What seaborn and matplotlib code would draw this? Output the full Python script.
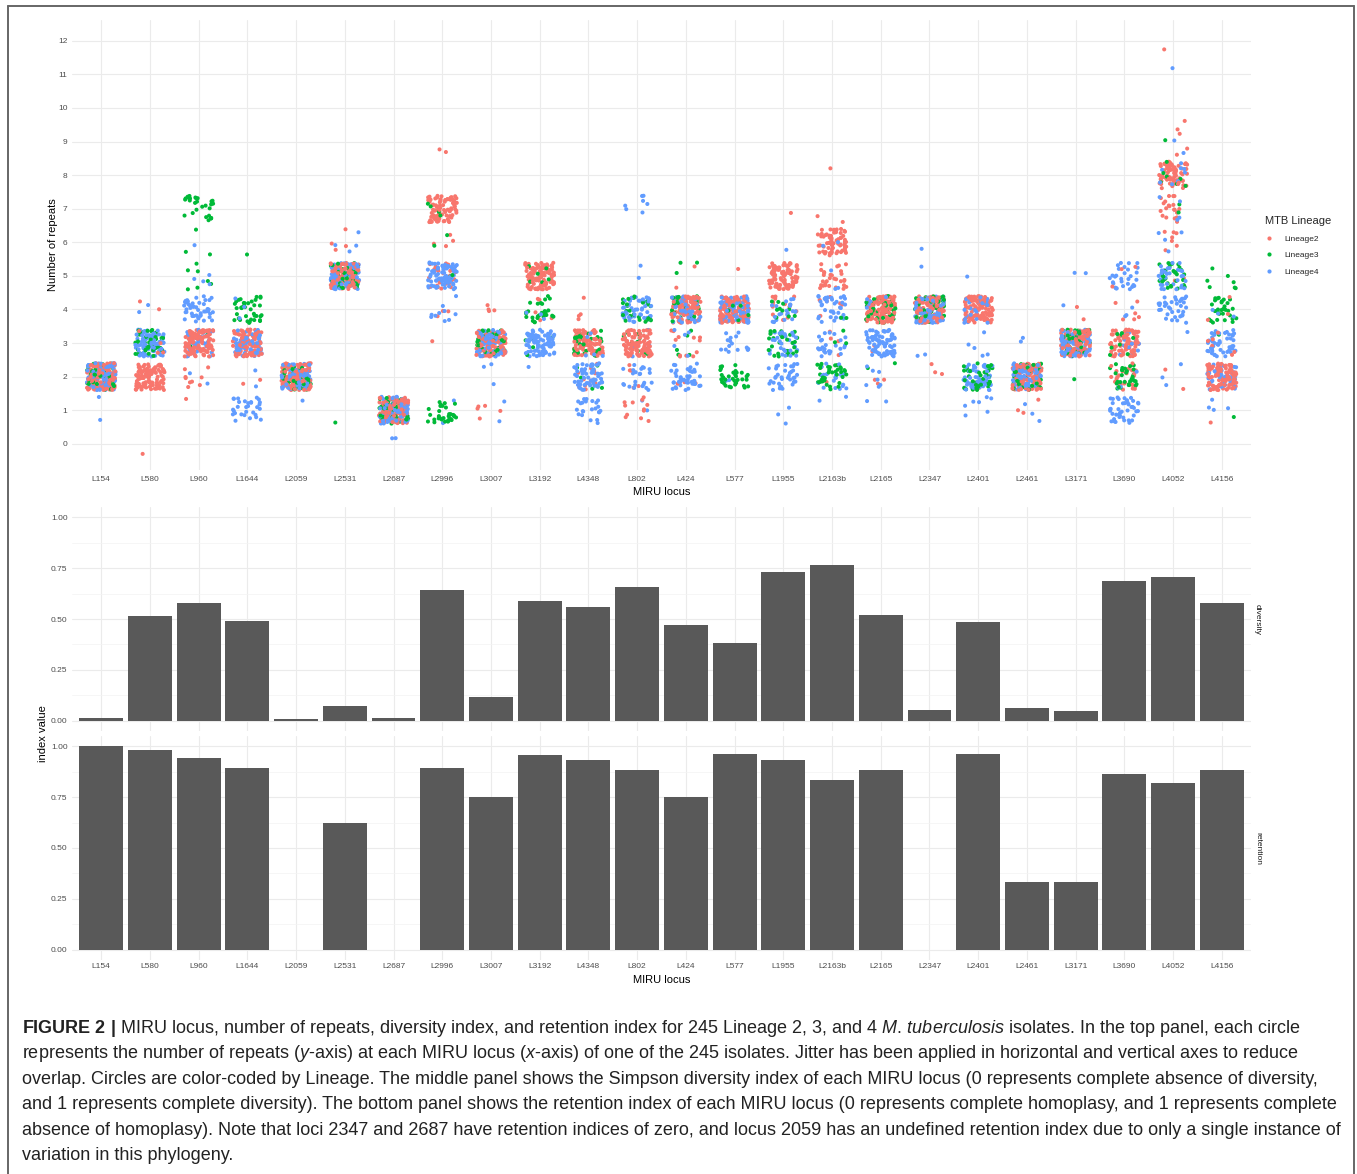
import numpy as np
import pandas as pd
import seaborn as sns
import matplotlib as mpl
import matplotlib.pyplot as plt
from matplotlib.lines import Line2D
from matplotlib.ticker import MultipleLocator

loci = ["L154", "L580", "L960", "L1644", "L2059", "L2531", "L2687", "L2996",
        "L3007", "L3192", "L4348", "L802", "L424", "L577", "L1955", "L2163b",
        "L2165", "L2347", "L2401", "L2461", "L3171", "L3690", "L4052", "L4156"]
lineages = ["Lineage2", "Lineage3", "Lineage4"]
lineage_colors = ["#F8766D", "#00BA38", "#619CFF"]

# isolates per number of repeats, one dict per locus (same order as loci)
lineage2_repeats = [
    {2: 115}, {0: 1, 2: 108, 3: 4, 4: 2}, {1: 1, 2: 9, 3: 105}, {2: 2, 3: 113},
    {2: 115}, {5: 111, 6: 4}, {1: 115}, {3: 1, 4: 3, 5: 25, 6: 4, 7: 80, 9: 2},
    {1: 5, 3: 106, 4: 4}, {4: 5, 5: 110}, {2: 11, 3: 100, 4: 4}, {1: 12, 2: 5, 3: 98},
    {2: 3, 3: 12, 4: 98, 5: 2}, {4: 114, 5: 1}, {4: 14, 5: 100, 7: 1},
    {2: 2, 3: 4, 4: 6, 5: 30, 6: 70, 7: 2, 8: 1},
    {2: 3, 3: 2, 4: 110}, {2: 3, 4: 112}, {2: 2, 4: 113}, {1: 3, 2: 112},
    {3: 113, 4: 2}, {2: 26, 3: 80, 4: 6, 5: 3},
    {2: 2, 5: 3, 6: 7, 7: 22, 8: 75, 9: 4, 10: 1, 12: 1}, {1: 1, 2: 105, 3: 6, 4: 3},
]
lineage3_repeats = [
    {2: 40}, {3: 40}, {3: 2, 5: 7, 6: 3, 7: 28}, {3: 1, 4: 38, 6: 1},
    {2: 40}, {1: 1, 5: 39}, {1: 40}, {1: 32, 5: 2, 6: 2, 7: 4},
    {3: 40}, {3: 6, 4: 28, 5: 6}, {2: 7, 3: 33}, {3: 14, 4: 26},
    {3: 5, 4: 32, 5: 3}, {2: 35, 4: 5}, {3: 30, 4: 10}, {2: 35, 3: 3, 4: 2},
    {2: 2, 4: 38}, {4: 40}, {2: 40}, {2: 40},
    {2: 1, 3: 39}, {2: 32, 3: 8}, {5: 30, 7: 2, 8: 7, 9: 1}, {1: 1, 3: 2, 4: 30, 5: 7},
]
lineage4_repeats = [
    {1: 2, 2: 88}, {3: 88, 4: 2}, {2: 2, 3: 38, 4: 45, 5: 4, 6: 1}, {1: 30, 2: 2, 3: 55, 4: 3},
    {1: 1, 2: 89}, {5: 86, 6: 4}, {0: 2, 1: 88}, {1: 2, 4: 10, 5: 78},
    {1: 2, 2: 3, 3: 85}, {2: 1, 3: 86, 4: 3}, {1: 23, 2: 62, 3: 5},
    {1: 2, 2: 24, 3: 5, 4: 50, 5: 2, 7: 7},
    {2: 45, 3: 5, 4: 40}, {2: 2, 3: 16, 4: 72}, {1: 3, 2: 36, 3: 28, 4: 22, 6: 1},
    {1: 2, 2: 20, 3: 25, 4: 38, 5: 3, 6: 2},
    {1: 2, 2: 7, 3: 76, 4: 5}, {3: 2, 4: 86, 5: 1, 6: 1}, {1: 7, 2: 55, 3: 5, 4: 22, 5: 1},
    {1: 3, 2: 85, 3: 2},
    {3: 87, 4: 1, 5: 2}, {1: 42, 2: 3, 3: 12, 4: 3, 5: 30},
    {2: 3, 3: 1, 4: 35, 5: 32, 6: 4, 7: 4, 8: 8, 9: 2, 11: 1}, {1: 4, 2: 38, 3: 45, 4: 3},
]

diversity_index = [0.015, 0.514, 0.581, 0.488, 0.007, 0.075, 0.013, 0.643,
                   0.115, 0.586, 0.561, 0.656, 0.471, 0.381, 0.730, 0.764,
                   0.519, 0.054, 0.484, 0.062, 0.047, 0.687, 0.705, 0.579]
# L2059 retention index is undefined
retention_index = [1.000, 0.982, 0.944, 0.894, np.nan, 0.625, 0.0, 0.894,
                   0.751, 0.957, 0.933, 0.884, 0.751, 0.962, 0.931, 0.836,
                   0.884, 0.0, 0.964, 0.334, 0.334, 0.864, 0.820, 0.885]

caption_lines = [
    r"$\mathbf{FIGURE\ 2\ |}$ MIRU locus, number of repeats, diversity index, and retention index for 245 Lineage 2, 3, and 4 $\mathit{M.\,tuberculosis}$ isolates. In the top panel, each circle",
    r"represents the number of repeats ($y$-axis) at each MIRU locus ($x$-axis) of one of the 245 isolates. Jitter has been applied in horizontal and vertical axes to reduce",
    "overlap. Circles are color-coded by Lineage. The middle panel shows the Simpson diversity index of each MIRU locus (0 represents complete absence of diversity,",
    "and 1 represents complete diversity). The bottom panel shows the retention index of each MIRU locus (0 represents complete homoplasy, and 1 represents complete",
    "absence of homoplasy). Note that loci 2347 and 2687 have retention indices of zero, and locus 2059 has an undefined retention index due to only a single instance of",
    "variation in this phylogeny.",
]

W, H = 1357, 1174


def fig_rect(left, top, right, bottom):
    # pixel box -> figure fraction rect
    return [left / W, 1 - bottom / H, (right - left) / W, (bottom - top) / H]


def style_axis(ax, minor_y=None):
    sns.despine(ax=ax, left=True, bottom=True)
    ax.tick_params(length=0, labelsize=6, labelcolor="#4D4D4D")
    ax.grid(True, which="major", color="#EBEBEB", lw=0.8)
    if minor_y:
        ax.yaxis.set_minor_locator(MultipleLocator(minor_y))
        ax.grid(True, which="minor", axis="y", color="#F3F3F3", lw=0.5)
        ax.tick_params(which="minor", length=0)
    ax.set_axisbelow(True)
    ax.set_xlim(-0.6, len(loci) - 0.4)


sns.set_theme(style="whitegrid")
plt.rcParams["font.family"] = ["Liberation Sans", "DejaVu Sans"]
plt.rcParams["mathtext.fontset"] = "custom"
plt.rcParams["mathtext.rm"] = "Liberation Sans"
plt.rcParams["mathtext.it"] = "Liberation Sans:italic"
plt.rcParams["mathtext.bf"] = "Liberation Sans:bold"

# long table: one row per isolate and locus
rows = []
for lineage, per_locus in zip(lineages, [lineage2_repeats, lineage3_repeats, lineage4_repeats]):
    for i, counts in enumerate(per_locus):
        for value, n in counts.items():
            rows += [(loci[i], i, lineage, value)] * n
df = pd.DataFrame(rows, columns=["locus", "locus_pos", "lineage", "repeats"])
# interleave the lineages so one colour is not always on top
grp = df.groupby(["locus", "lineage"])
df["rank"] = grp.cumcount() / grp["repeats"].transform("size")
df = df.sort_values(["locus_pos", "rank"]).reset_index(drop=True)
point_colors = mpl.colors.to_rgba_array(df["lineage"].map(dict(zip(lineages, lineage_colors))))

fig = plt.figure(figsize=(W / 100, H / 100), dpi=100)

# top panel: repeats per locus, jittered in both directions
ax = fig.add_axes(fig_rect(72, 20, 1251, 470))
np.random.seed(11)
sns.regplot(data=df, x="locus_pos", y="repeats", x_jitter=0.3, y_jitter=0.4,
            fit_reg=False, ax=ax,
            scatter_kws={"color": point_colors, "s": 8.5, "linewidths": 0})
style_axis(ax)
ax.set_ylim(-0.78, 12.62)
ax.set_yticks(range(13))
ax.set_xticks(range(len(loci)), loci)
ax.tick_params(axis="x", pad=4.2)
ax.tick_params(axis="y", pad=3.2)
ax.set_xlabel("MIRU locus", fontsize=8, color="black", va="top")
ax.set_ylabel("Number of repeats", fontsize=8, color="black")
ax.xaxis.set_label_coords(0.5, -0.038)
ax.yaxis.set_label_coords(-0.012, 0.5)

handles = [Line2D([], [], marker="o", ls="", color=c, markersize=3, markeredgewidth=0)
           for c in lineage_colors]
fig.legend(handles, lineages, title="MTB Lineage", loc="upper left",
           bbox_to_anchor=(1265 / W, 1 - 216 / H), frameon=False, fontsize=6,
           title_fontsize=8, labelspacing=1.05, handletextpad=1.3, handlelength=1.0,
           borderpad=0, borderaxespad=0, alignment="left")

# middle and bottom panels: diversity and retention indices
bars = pd.DataFrame({"locus": loci, "diversity": diversity_index, "retention": retention_index})
ax_div = fig.add_axes(fig_rect(72, 507, 1251, 731))
ax_ret = fig.add_axes(fig_rect(72, 736, 1251, 960))
for a, col in [(ax_div, "diversity"), (ax_ret, "retention")]:
    sns.barplot(data=bars, x="locus", y=col, order=loci, color="#595959", saturation=1,
                width=0.9, errorbar=None, linewidth=0, ax=a)
    style_axis(a, minor_y=0.125)
    a.set_ylim(-0.05, 1.05)
    a.set_yticks([0, 0.25, 0.5, 0.75, 1.0], ["0.00", "0.25", "0.50", "0.75", "1.00"])
    a.tick_params(axis="y", pad=3.2)
    a.set_ylabel("")
    a.text(1.0025, 0.5, col, transform=a.transAxes, rotation=-90, ha="left", va="center",
           fontsize=6, color="#1A1A1A")
ax_div.set_xlabel("")
ax_div.set_xticks(range(len(loci)), [""] * len(loci))
ax_ret.tick_params(axis="x", pad=2.5)
ax_ret.set_xlabel("MIRU locus", fontsize=8, color="black", va="top")
ax_ret.xaxis.set_label_coords(0.5, -0.068)
fig.text(43.5 / W, 1 - 734 / H, "index value", rotation=90, ha="center", va="center",
         fontsize=8, color="black")

# caption
for k, line in enumerate(caption_lines):
    fig.text(22 / W, 1 - (1033 + 25.4 * k) / H, line, ha="left", va="baseline",
             fontsize=13.0, color="#222222")

# page frame
for xs, ys in [([8, 1354], [6, 6]), ([1354, 1354], [6, 1174]), ([8, 8], [6, 1174])]:
    fig.add_artist(Line2D([x / W for x in xs], [1 - y / H for y in ys],
                          transform=fig.transFigure, color="#666666", lw=1.4))

fig.savefig("out.png", dpi=100)
